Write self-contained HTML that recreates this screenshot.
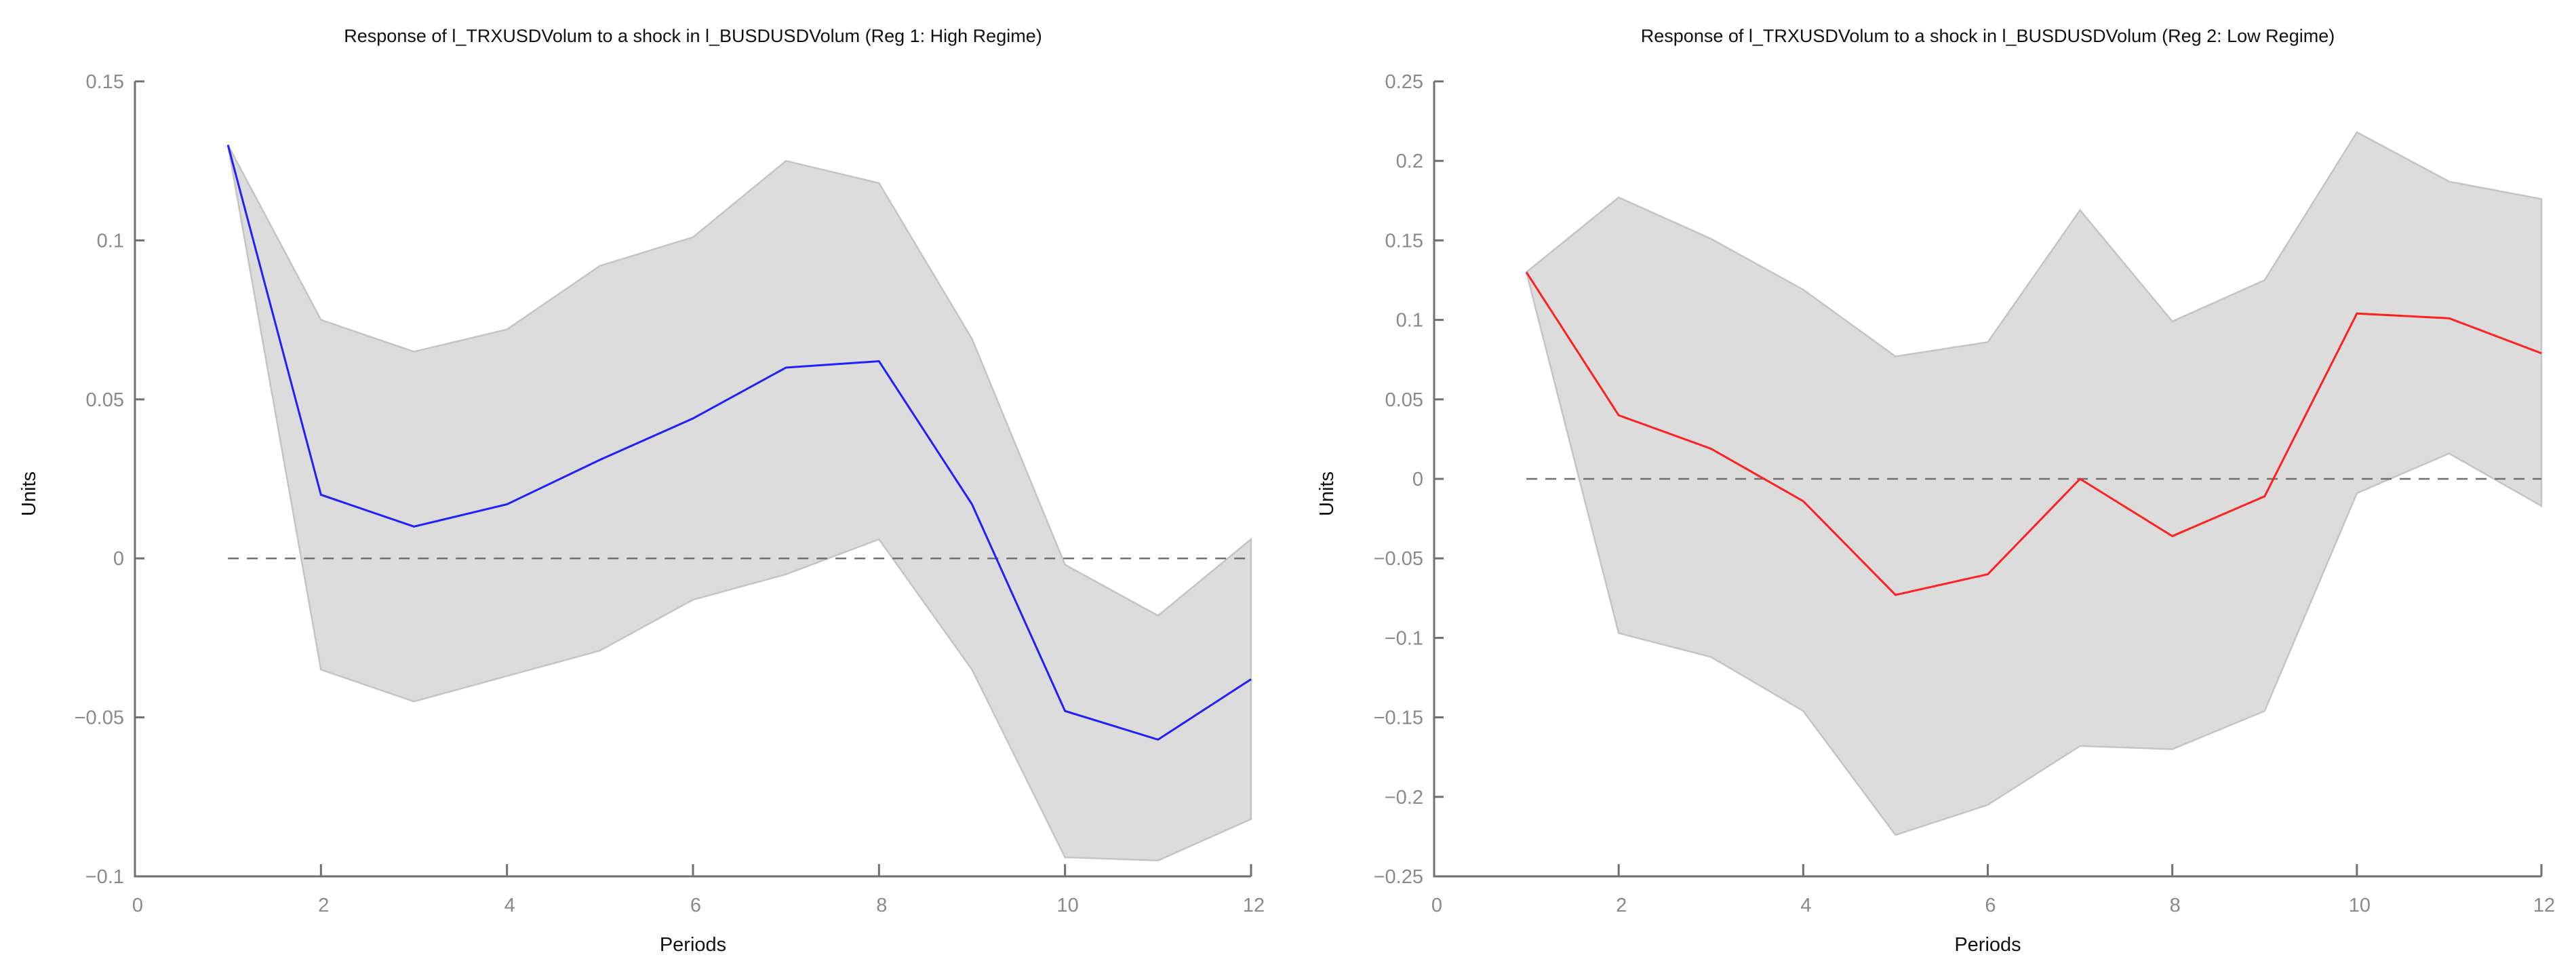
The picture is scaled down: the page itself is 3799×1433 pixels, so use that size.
<!DOCTYPE html>
<html><head><meta charset="utf-8"><style>
html,body{margin:0;padding:0;background:#fff}
svg{display:block}
text{font-family:"Liberation Sans",sans-serif}
</style></head><body>
<svg id="chart" width="3799" height="1433" viewBox="0 0 3799 1433"></svg>
<script>
const periods=[1,2,3,4,5,6,7,8,9,10,11,12];
const xTicks=[0,2,4,6,8,10,12];
const highMean=[0.13,0.02,0.01,0.017,0.031,0.044,0.06,0.062,0.017,-0.048,-0.057,-0.038];
const highUpper=[0.13,0.075,0.065,0.072,0.092,0.101,0.125,0.118,0.069,-0.002,-0.018,0.006];
const highLower=[0.13,-0.035,-0.045,-0.037,-0.029,-0.013,-0.005,0.006,-0.035,-0.094,-0.095,-0.082];
const highYTicks=[-0.1,-0.05,0,0.05,0.1,0.15];
const highYLabels=["\u22120.1","\u22120.05","0","0.05","0.1","0.15"];
const lowMean=[0.13,0.04,0.019,-0.014,-0.073,-0.06,0.0,-0.036,-0.011,0.104,0.101,0.079];
const lowUpper=[0.13,0.177,0.151,0.119,0.077,0.086,0.169,0.099,0.125,0.218,0.187,0.176];
const lowLower=[0.13,-0.097,-0.112,-0.146,-0.224,-0.205,-0.168,-0.170,-0.146,-0.009,0.016,-0.017];
const lowYTicks=[-0.25,-0.2,-0.15,-0.1,-0.05,0,0.05,0.1,0.15,0.2,0.25];
const lowYLabels=["\u22120.25","\u22120.2","\u22120.15","\u22120.1","\u22120.05","0","0.05","0.1","0.15","0.2","0.25"];

const NS="http://www.w3.org/2000/svg";
const svg=document.getElementById('chart');
function mk(tag,attrs,parent){const e=document.createElementNS(NS,tag);for(const k in attrs)e.setAttribute(k,attrs[k]);(parent||svg).appendChild(e);return e;}

function panel(cfg){
  const g=mk('g',{});
  
  
  const sx=v=>cfg.x0+(v-0)/(12-0)*(cfg.x1-cfg.x0);
  const sy=v=>cfg.yb+(v-cfg.ymin)/(cfg.ymax-cfg.ymin)*(cfg.yt-cfg.yb);
  // band
  let d='M'+periods.map((p,i)=>sx(p)+','+sy(cfg.upper[i])).join(' L');
  for(let i=periods.length-1;i>=0;i--) d+=' L'+sx(periods[i])+','+sy(cfg.lower[i]);
  d+=' Z';
  const band=mk('path',{d:d,fill:'#dcdcdc',stroke:'#c4c4c4','stroke-width':2.5},g);
  
  
  // zero line
  const z=mk('line',{x1:sx(1),x2:sx(12),y1:sy(0),y2:sy(0),stroke:'#707070','stroke-width':2.5,'stroke-dasharray':'16,12'},g);
  
  
  // mean
  const ln=mk('polyline',{points:periods.map((p,i)=>sx(p)+','+sy(cfg.mean[i])).join(' '),fill:'none',stroke:cfg.color,'stroke-width':3},g);
  
  
  // axes
  const ax=mk('path',{d:`M${cfg.x0},${cfg.yt} L${cfg.x0},${cfg.yb} L${cfg.x1},${cfg.yb}`,fill:'none',stroke:'#707070','stroke-width':3},g);
  
  
  cfg.yTicks.forEach((v,i)=>{
    const y=sy(v);
    mk('line',{x1:cfg.x0,x2:cfg.x0+14,y1:y,y2:y,stroke:'#707070','stroke-width':3},g);
    const t=mk('text',{x:cfg.x0-16,y:y+10,'text-anchor':'end','font-size':29,fill:'#8a8a8a'},g);
    t.textContent=cfg.yLabels[i];
    
    
  });
  xTicks.forEach(v=>{
    const x=sx(v);
    mk('line',{x1:x,x2:x,y1:cfg.yb,y2:cfg.yb-18,stroke:'#707070','stroke-width':3},g);
    const t=mk('text',{x:x+4,y:cfg.yb+52,'text-anchor':'middle','font-size':29,fill:'#8a8a8a'},g);
    t.textContent=v;
    
    
  });
  const ti=mk('text',{x:(cfg.x0+cfg.x1)/2,y:62,'text-anchor':'middle','font-size':27,fill:'#111'},g);
  ti.textContent=cfg.title;
  
  
  const xl=mk('text',{x:(cfg.x0+cfg.x1)/2,y:1402,'text-anchor':'middle','font-size':29,fill:'#111'},g);
  xl.textContent='Periods';
  
  
  const yl=mk('text',{x:cfg.ylx,y:728,'text-anchor':'middle','font-size':29,fill:'#111',transform:`rotate(-90 ${cfg.ylx} 728)`},g);
  yl.textContent='Units';
  
  
}
panel({name:'high-regime-panel',x0:199,x1:1845,yt:120,yb:1292,ymin:-0.1,ymax:0.15,mean:highMean,upper:highUpper,lower:highLower,yTicks:highYTicks,yLabels:highYLabels,color:'#2020ff',ylx:52,title:'Response of l_TRXUSDVolum to a shock in l_BUSDUSDVolum (Reg 1: High Regime)'});
panel({name:'low-regime-panel',x0:2115,x1:3748,yt:120,yb:1292,ymin:-0.25,ymax:0.25,mean:lowMean,upper:lowUpper,lower:lowLower,yTicks:lowYTicks,yLabels:lowYLabels,color:'#ff2020',ylx:1966,title:'Response of l_TRXUSDVolum to a shock in l_BUSDUSDVolum (Reg 2: Low Regime)'});
</script>
</body></html>
